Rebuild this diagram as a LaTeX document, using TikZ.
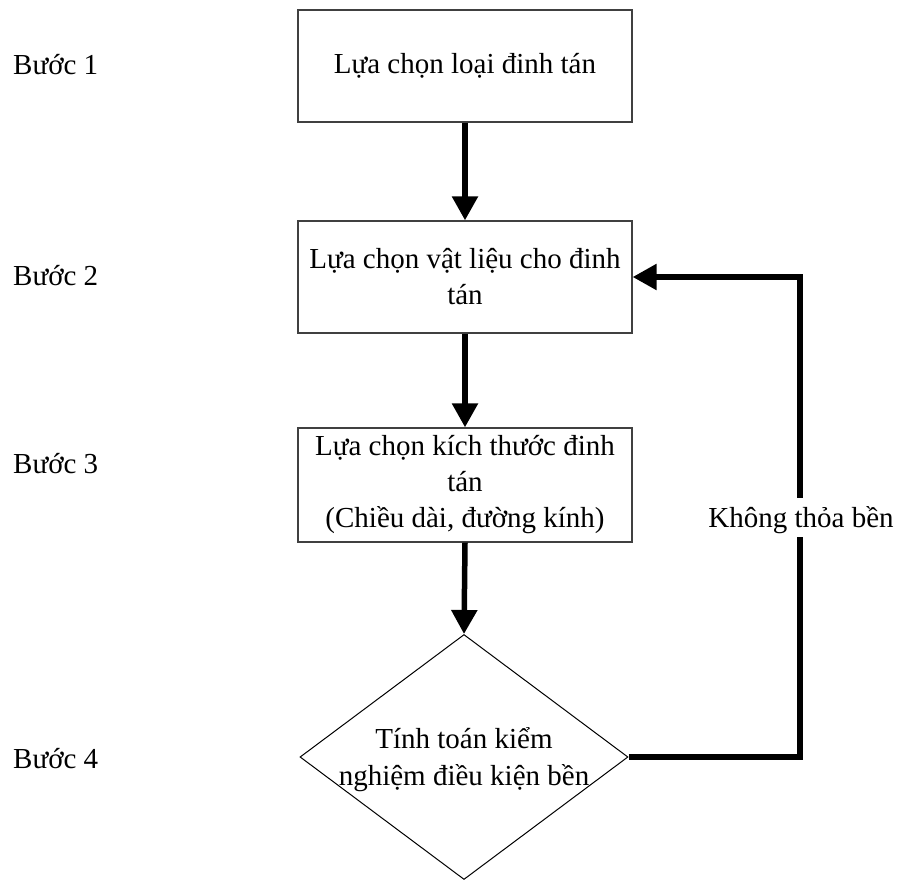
\documentclass[tikz,border=0pt]{standalone}
\usepackage{fontspec}
\setmainfont{Liberation Serif}
\usetikzlibrary{arrows.meta,shapes.geometric}

\tikzset{
  stepbox/.style={draw=black!75, line width=1.3pt, rectangle,
    minimum width=334pt, minimum height=112pt, inner sep=4pt,
    align=center, font=\fontsize{29}{36}\selectfont},
  checkbox/.style={draw=black, line width=1pt, diamond,
    minimum width=328pt, minimum height=245pt, inner sep=0pt},
  flow/.style={line width=5.5pt, -{Triangle[length=24pt,width=25pt]}},
  steplabel/.style={anchor=base west, inner sep=0pt, font=\fontsize{29}{36}\selectfont},
  txt/.style={align=center, inner sep=0pt, font=\fontsize{29}{37}\selectfont},
  looplabel/.style={fill=white, inner xsep=1pt, inner ysep=2pt,
    text height=27pt, text depth=8pt, anchor=base,
    font=\fontsize{29}{36}\selectfont},
}

\begin{document}
\begin{tikzpicture}[x=1pt, y=-1pt]
  \useasboundingbox (0,0) rectangle (899,882);

  % step labels on the left
  \node[steplabel] (s1) at (13,75)  {Bước 1};
  \node[steplabel] (s2) at (13,286) {Bước 2};
  \node[steplabel] (s3) at (13,473) {Bước 3};
  \node[steplabel] (s4) at (13,768) {Bước 4};

  % process boxes
  \node[stepbox] (b1) at (465,66)  {Lựa chọn loại đinh tán};
  \node[stepbox] (b2) at (465,277) {Lựa chọn vật liệu cho đinh\\tán};
  \node[stepbox, minimum height=114pt] (b3) at (465,485)
    {Lựa chọn kích thước đinh\\tán\\(Chiều dài, đường kính)};

  % decision
  \node[checkbox] (d) at (464,757) {};
  \node[txt] (dt) at (464,760) {Tính toán kiểm\\nghiệm điều kiện bền};

  % main flow
  \draw[flow] (b1.south) -- (b2.north);
  \draw[flow] (b2.south) -- (b3.north);
  \draw[flow] (b3.south) -- (d.north);

  % feedback loop
  \coordinate (c1) at (800,500);
  \draw[flow] (d.east) -| (c1) |- (b2.east);
  \node[looplabel] (lbl) at (801,527) {Không thỏa bền};
\end{tikzpicture}
\end{document}
